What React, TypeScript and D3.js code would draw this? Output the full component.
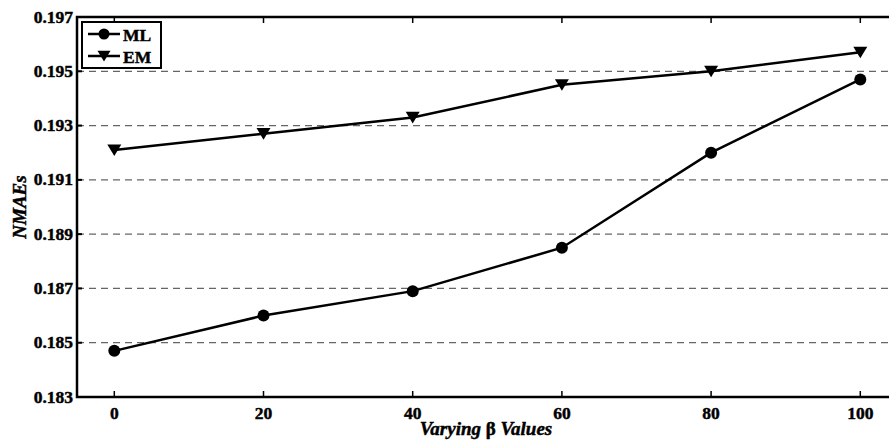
import React from "react";
import * as d3 from "d3";

const betaValues = [0, 20, 40, 60, 80, 100];
const mlValues = [0.1847, 0.186, 0.1869, 0.1885, 0.192, 0.1947];
const emValues = [0.1921, 0.1927, 0.1933, 0.1945, 0.195, 0.1957];
const yTicks = [0.183, 0.185, 0.187, 0.189, 0.191, 0.193, 0.195, 0.197];
const seriesNames = ["ML", "EM"];

const W = 889;
const H = 442;
const margin = { left: 77, top: 17, bottom: 45 };
const FONT = "'Liberation Serif', 'Times New Roman', serif";
const textStyle = { fontFamily: FONT, fontWeight: "bold" as const, stroke: "#000", strokeWidth: 0.45 };

export default function App() {
  const x = d3.scaleLinear().domain([-5, 105]).range([margin.left, margin.left + 110 * 7.46]);
  const y = d3.scaleLinear().domain([0.183, 0.197]).range([H - margin.bottom, margin.top]);
  const [x0, x1] = x.range();
  const [yb, yt] = y.range();

  const line = d3
    .line<number>()
    .x((_, i) => x(betaValues[i]))
    .y((d) => y(d));

  const tri = (cx: number, cy: number, s = 7) =>
    `M${cx - s},${cy - s * 0.8}L${cx + s},${cy - s * 0.8}L${cx},${cy + s * 0.85}Z`;

  return (
    <svg width={W} height={H} style={{ position: "absolute", left: 0, top: 0, background: "#fff" }}>
      {/* horizontal dashed grid */}
      {yTicks.slice(1, -1).map((t) => (
        <line key={t} x1={x0} x2={x1} y1={y(t)} y2={y(t)} stroke="#666" strokeWidth={1.2} strokeDasharray="7,5" />
      ))}
      {/* frame */}
      <rect x={x0} y={yt} width={x1 - x0} height={yb - yt} fill="none" stroke="#000" strokeWidth={2.5} />
      {/* y ticks */}
      {yTicks.map((t) => (
        <g key={t}>
          <line x1={x0} x2={x0 + 5} y1={y(t)} y2={y(t)} stroke="#000" strokeWidth={2} />
          <text x={x0 - 4} y={y(t) + 5.5} textAnchor="end" fontSize={17.5} {...textStyle}>
            {t.toFixed(3)}
          </text>
        </g>
      ))}
      {/* x ticks */}
      {betaValues.map((v) => (
        <g key={v}>
          <line x1={x(v)} x2={x(v)} y1={yb} y2={yb - 6} stroke="#000" strokeWidth={1.5} />
          <line x1={x(v)} x2={x(v)} y1={yt} y2={yt + 6} stroke="#000" strokeWidth={1.5} />
          <text x={x(v)} y={yb + 21.5} textAnchor="middle" fontSize={17.5} {...textStyle}>
            {v}
          </text>
        </g>
      ))}
      {/* series */}
      <path d={line(mlValues) || ""} fill="none" stroke="#000" strokeWidth={2.5} />
      <path d={line(emValues) || ""} fill="none" stroke="#000" strokeWidth={2.5} />
      {mlValues.map((v, i) => (
        <circle key={i} cx={x(betaValues[i])} cy={y(v)} r={6} fill="#000" />
      ))}
      {emValues.map((v, i) => (
        <path key={i} d={tri(x(betaValues[i]), y(v))} fill="#000" />
      ))}
      {/* legend */}
      <rect x={82} y={22} width={79} height={46} fill="#fff" stroke="#000" strokeWidth={2} />
      <line x1={88} x2={120} y1={34} y2={34} stroke="#000" strokeWidth={2.5} />
      <circle cx={104} cy={34} r={5.5} fill="#000" />
      <text x={123} y={40.5} fontSize={17.5} {...textStyle}>{seriesNames[0]}</text>
      <line x1={88} x2={120} y1={56} y2={56} stroke="#000" strokeWidth={2.5} />
      <path d={tri(104, 56, 6.5)} fill="#000" />
      <text x={123} y={62.5} fontSize={17.5} {...textStyle}>{seriesNames[1]}</text>
      {/* axis titles */}
      <text
        transform={`translate(26,207) rotate(-90)`}
        textAnchor="middle"
        fontStyle="italic"
        fontSize={19}
        {...textStyle}
      >
        NMAEs
      </text>
      <text x={486} y={435} textAnchor="middle" fontStyle="italic" fontSize={19} {...textStyle}>
        Varying <tspan fontStyle="normal">β</tspan> Values
      </text>
    </svg>
  );
}
